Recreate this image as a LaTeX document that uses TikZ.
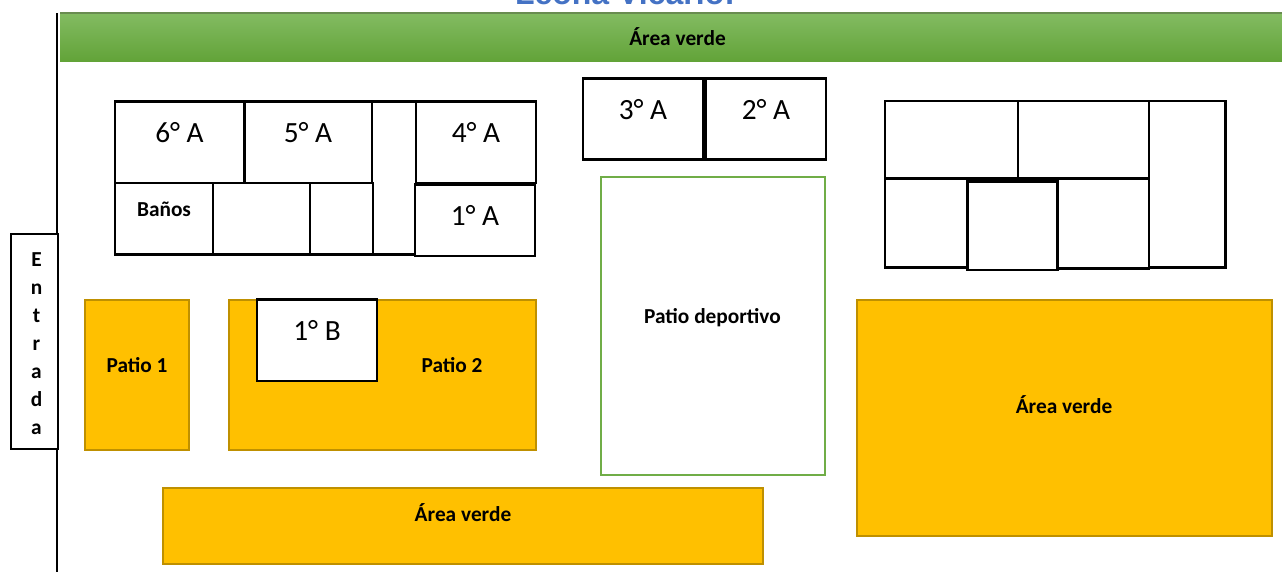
\documentclass[tikz,border=0pt]{standalone}
\usepackage{fontspec}
\setmainfont{Carlito}
\newfontfamily\titlefont{Liberation Sans}
\definecolor{goldfill}{HTML}{FFC000}
\definecolor{goldline}{HTML}{BF9000}
\definecolor{greenline}{HTML}{70AD47}
\definecolor{titleblue}{HTML}{4472C4}
\definecolor{bartop}{RGB}{131,187,98}
\definecolor{barmid}{RGB}{112,178,63}
\definecolor{barbot}{RGB}{98,163,56}
\definecolor{baredge}{RGB}{105,140,80}
\tikzset{
  wall/.style={draw=black,line width=1.7pt},
  goldbox/.style={draw=goldline,fill=goldfill,line width=2.2pt},
  room/.style={font=\fontsize{22pt}{24pt}\selectfont,anchor=base,inner sep=0pt},
  lbl/.style={font=\fontsize{16pt}{18pt}\selectfont\bfseries,anchor=base,inner sep=0pt},
}
\begin{document}
\begin{tikzpicture}[x=0.75pt,y=-0.75pt]
\useasboundingbox (0,0) rectangle (1282,572);
\clip (0,0) rectangle (1282,572);
% title
\node[font=\titlefont\fontsize{24pt}{28pt}\selectfont\bfseries,text=titleblue,anchor=base,inner sep=0pt] (title) at (625,4.5) {Leona Vicario:};
% boundary wall
\coordinate (walltop) at (57,13);
\coordinate (wallbot) at (57,572);
\draw[wall] (walltop) -- (wallbot);
% green strip
\shade[top color=bartop,middle color=barmid,bottom color=barbot] (60,13) rectangle (1282,61.5);
\draw[draw=baredge,line width=0.8pt] (60,13) -- (1282,13);
\node[lbl] (verde1) at (677.5,45) {Área verde};
% Entrada
\draw[wall,fill=white] (11,234) rectangle (58,449);
\node[lbl] (e1) at (36.5,266) {E};
\node[lbl] (e2) at (36.5,294) {n};
\node[lbl] (e3) at (36.5,322) {t};
\node[lbl] (e4) at (36.5,350) {r};
\node[lbl] (e5) at (36.5,378) {a};
\node[lbl] (e6) at (36.5,406) {d};
\node[lbl] (e7) at (36.5,434) {a};
% left block
\draw[wall] (373,101.5) -- (416,101.5);
\draw[wall] (373,254.5) -- (416,254.5);
\draw[wall] (115,101.5) rectangle (244.5,183);
\draw[wall] (244.5,101.5) rectangle (372,183);
\draw[wall] (416,101.5) rectangle (536,183);
\draw[wall] (115,183) rectangle (213,254.5);
\draw[wall] (213,183) rectangle (310,254.5);
\draw[wall] (310,183) rectangle (373,254.5);
\draw[wall] (415,184.5) rectangle (535,256);
\node[room] (r6) at (179.5,142.4) {6° A};
\node[room] (r5) at (308,142.4) {5° A};
\node[room] (r4) at (476,142.4) {4° A};
\node[room] (r1) at (475,225) {1° A};
\node[lbl] (banos) at (164,216) {Baños};
% middle block
\draw[wall] (583,78.5) rectangle (703.5,159.5);
\draw[wall] (705.5,78.5) rectangle (826,159.5);
\node[room] (r3) at (643,119) {3° A};
\node[room] (r2) at (766,119) {2° A};
% patio deportivo
\draw[draw=greenline,line width=1.9pt] (601,177) rectangle (825,475);
\node[lbl] (pd) at (712.5,323) {Patio deportivo};
% right block
\draw[wall] (885,101) rectangle (1018,178.5);
\draw[wall] (1018,101) rectangle (1149,178.5);
\draw[wall] (1149,101) rectangle (1225.5,267.5);
\draw[wall] (885,178.5) rectangle (967,267.5);
\draw[wall] (1058,178.5) rectangle (1149,268.5);
\draw[wall,fill=white] (967.5,181.5) rectangle (1057.5,270);
% gold areas
\draw[goldbox] (85,300) rectangle (189,450);
\node[lbl] (p1) at (137,372) {Patio 1};
\draw[goldbox] (229,300) rectangle (536,450);
\node[lbl] (p2) at (452,372) {Patio 2};
\draw[wall,fill=white] (257,299.5) rectangle (377,381);
\node[room] (rb) at (317,340) {1° B};
\draw[goldbox] (163,488) rectangle (763,564);
\node[lbl] (verde2) at (463,521) {Área verde};
\draw[goldbox] (857,300) rectangle (1272,536);
\node[lbl] (verde3) at (1064,413) {Área verde};
\end{tikzpicture}
\end{document}
